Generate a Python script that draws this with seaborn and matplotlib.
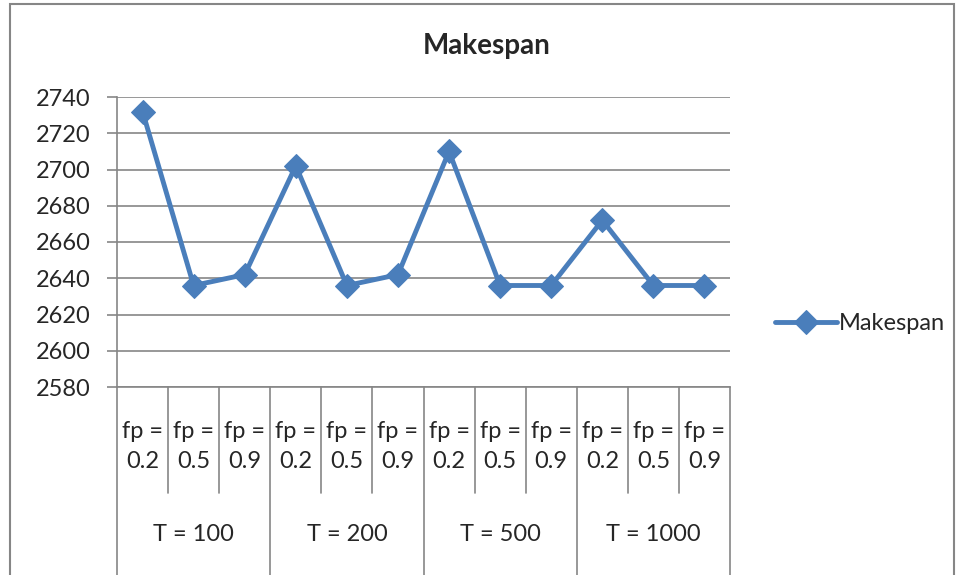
import matplotlib
matplotlib.use('Agg')
import matplotlib.pyplot as plt
import matplotlib.transforms as mtransforms
from matplotlib.patches import Rectangle
import pandas as pd
import seaborn as sns

# chart data
groups = ["T = 100", "T = 200", "T = 500", "T = 1000"]
fp_values = ["0.2", "0.5", "0.9"]
makespan = [2732, 2636, 2642, 2702, 2636, 2642, 2710, 2636, 2636, 2672, 2636, 2636]

LINE_COLOR = '#4A7EBB'
GRID_COLOR = '#868686'
FS = 17

sns.set_style('white')
plt.rcParams['font.family'] = ['Lato', 'DejaVu Sans']

labels = []
for g in groups:
    for fp in fp_values:
        labels.append((g, fp))
df = pd.DataFrame({"pos": list(range(len(makespan))),
                   "group": [l[0] for l in labels],
                   "fp": [l[1] for l in labels],
                   "Makespan": makespan})

fig = plt.figure(figsize=(9.56, 5.75), dpi=100)
ax = fig.add_axes([117 / 956, 1 - 387 / 575, 613 / 956, 290 / 575])

sns.lineplot(data=df, x="pos", y="Makespan", ax=ax, color=LINE_COLOR,
             linewidth=3.5, marker='D', markersize=12, markeredgecolor=LINE_COLOR,
             label="Makespan", legend=False)

ax.set_xlim(-0.5, len(makespan) - 0.5)
ax.set_ylim(2580, 2740)
ax.set_yticks(range(2580, 2741, 20))
ax.yaxis.grid(True, color=GRID_COLOR, linewidth=1.2)
ax.set_axisbelow(True)
ax.set_xticks([])
ax.set_xlabel("")
ax.set_ylabel("")
for side in ['top', 'right']:
    ax.spines[side].set_visible(False)
for side in ['left', 'bottom']:
    ax.spines[side].set_color(GRID_COLOR)
    ax.spines[side].set_linewidth(1.2)
ax.tick_params(axis='y', length=7, width=1.2, color=GRID_COLOR, pad=12,
               labelsize=FS, left=True)

# two-level category axis
trans = mtransforms.blended_transform_factory(ax.transData, ax.transAxes)
n = len(makespan)
for i in range(n + 1):
    x = i - 0.5
    bottom = -0.66 if i % len(fp_values) == 0 else -0.365
    ax.plot([x, x], [0, bottom], transform=trans, color=GRID_COLOR,
            linewidth=1.2, clip_on=False)
for i, (g, fp) in enumerate(labels):
    ax.text(i, -0.205, "fp =\n" + fp, transform=trans, ha='center', va='center',
            fontsize=FS, linespacing=1.5)
for j, g in enumerate(groups):
    center = j * len(fp_values) + (len(fp_values) - 1) / 2
    ax.text(center, -0.51, g, transform=trans, ha='center', va='center',
            fontsize=FS)

fig.text(487 / 956, 1 - 46 / 575, "Makespan", ha='center', va='center',
         fontsize=20, fontweight='bold')

handles, hlabels = ax.get_legend_handles_labels()
fig.legend(handles, hlabels, loc='center left', bbox_to_anchor=(754 / 956, 1 - 324 / 575),
           frameon=False, fontsize=FS, handlelength=2.6, handletextpad=0.1)

# outer chart border
fig.patches.append(Rectangle((10 / 956, -0.02), 944 / 956, 1.02 - 4 / 575,
                             transform=fig.transFigure, fill=False,
                             edgecolor=GRID_COLOR, linewidth=1.5))

fig.savefig('out.png', dpi=100)
